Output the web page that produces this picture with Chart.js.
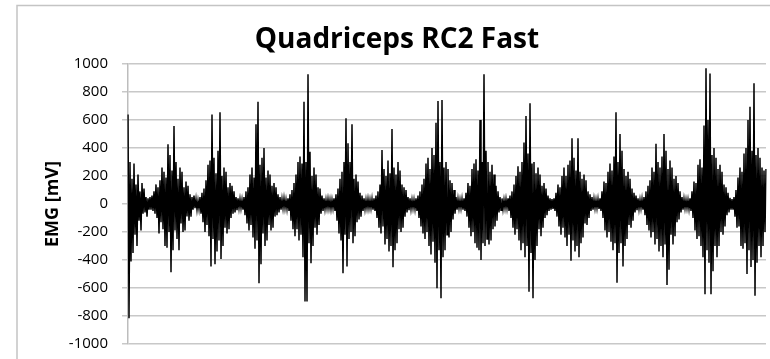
<!DOCTYPE html>
<html>
<head>
<meta charset="utf-8">
<script src="https://cdn.jsdelivr.net/npm/chart.js@4.4.1/dist/chart.umd.min.js"></script>
<style>
  html, body { margin: 0; padding: 0; background: #ffffff; }
  #wrap { width: 770px; height: 359px; }
</style>
</head>
<body>
<div id="wrap"><canvas id="c" width="770" height="359"></canvas></div>
<script>
// EMG signal, one array per contraction burst (alternating positive / negative excursions)
const startSpike = [640,-816,300,-410,180,-350,290,-220,140,-300,210,-120,90,-190,150,-70,110,-60,50,-90,40,-40,50];
const burst1  = [-40,60,-50,90,-70,140,-100,120,-210,170,-130,260,-180,230,-300,190,-312,426,-200,350,-488,240,-330,557,-190,300,-250,180,-330,260,-140,230,-200,120,-190,160,-90,130,-120,70,-90,50,-40,60,-30,35,-40,25,-35];
const burst2  = [50,-70,80,-130,110,-200,170,-150,280,-230,310,-447,640,-250,330,-430,220,-340,380,-260,655,-393,200,-300,260,-170,230,-210,120,-180,150,-100,130,-70,90,-60,50,-45,40,-30,35,-30,30,-40];
const burst3  = [50,-80,90,-140,120,-190,210,-150,260,-240,190,-320,569,-260,730,-566,280,-430,330,-210,400,-300,190,-260,240,-150,210,-190,130,-170,150,-90,120,-80,70,-60,50,-40,35,-30,40,-30,30,-35,40];
const burst4  = [-50,70,-120,100,-180,150,-230,210,-180,300,-260,340,-220,290,-380,730,-697,300,-697,926,-280,373,-424,200,-300,260,-170,210,-220,120,-150,110,-70,60,-50,40,-35,30,-30,35,-30,30,-35,30,-30,40,-50];
const burst5  = [70,-120,110,-210,180,-260,230,-495,300,-220,612,-447,433,-250,300,-200,569,-280,180,-230,210,-130,160,-110,80,-90,60,-50,40,-35,30,-30,35,-30,30,-30,35,-40,40,-50];
const burst6  = [60,-100,90,-170,140,-210,386,-160,250,-290,200,-250,310,-340,220,-300,535,-452,260,-330,210,-280,300,-180,240,-200,140,-170,120,-90,100,-60,50,-45,40,-35,30,-30,30,-35,40,-50];
const burst7  = [60,-100,90,-160,140,-210,180,-250,290,-200,330,-300,250,-360,400,-270,350,-420,580,-602,735,-330,300,-673,742,-380,260,-330,300,-220,250,-240,170,-200,150,-110,100,-70,50,-40,35,-30,30,-30,35,-40,40];
const burst8  = [-50,80,-90,150,-170,130,-230,250,-200,290,-280,320,-312,240,-330,600,-400,300,-280,926,-300,380,-250,300,-290,230,-260,280,-180,210,-160,130,-120,90,-60,50,-45,40,-35,30,-30,35,-30,40,-50];
const burst9  = [60,-100,90,-170,140,-220,200,-180,270,-260,230,-330,300,-280,440,-380,628,-300,360,-626,719,-350,290,-673,300,-400,220,-300,260,-180,210,-230,130,-170,150,-100,110,-80,60,-50,40,-40,35,-35,40];
const burst10 = [-50,80,-90,140,-160,120,-220,200,-170,260,-240,200,-300,280,-220,310,-405,469,-260,330,-340,240,-300,470,-380,230,-280,180,-240,210,-140,170,-150,90,-100,70,-50,50,-40,35,-30,30,-30,35,-35,40];
const burst11 = [-50,90,-100,160,-190,150,-240,230,-200,290,-270,240,-330,340,-280,655,-562,300,-350,500,-280,380,-447,250,-300,200,-250,230,-150,180,-170,110,-120,80,-60,60,-45,40,-35,30,-30,35,-40];
const burst12 = [50,-80,90,-150,130,-190,170,-240,260,-200,230,-290,430,-250,300,-340,260,-300,340,-380,500,-290,380,-578,250,-470,310,-220,260,-290,180,-230,200,-130,150,-110,90,-60,50,-40,35,-30,30,-30,30,-35,40];
const burst13 = [-50,90,-100,160,-190,150,-250,280,-230,320,-300,260,-380,560,-645,969,-330,600,-420,933,-645,350,-480,400,-300,330,-380,250,-300,280,-200,230,-220,140,-160,120,-80,80,-60,45,-40,35,-40];
const burst14 = [50,-90,100,-170,190,-160,260,-300,230,-320,360,-280,400,-500,600,-330,695,-450,380,-400,862,-655,350,-420,400,-300,330,-380,260,-300,240,-200,250];

const yTicks = [-1000,-800,-600,-400,-200,0,200,400,600,800,1000];
const chartTitle = 'Quadriceps RC2 Fast';
const yTitle = 'EMG [mV]';

const emg = [].concat(startSpike, burst1, burst2, burst3, burst4, burst5, burst6, burst7,
                      burst8, burst9, burst10, burst11, burst12, burst13, burst14);
const samples = emg.map((_, i) => i + 1);

const frame = {
  id: 'frame',
  beforeDraw(chart) {
    const ctx = chart.ctx;
    ctx.save();
    ctx.fillStyle = '#ffffff';
    ctx.fillRect(0, 0, chart.width, chart.height);
    ctx.strokeStyle = '#c4c4c4';
    ctx.lineWidth = 1.5;
    ctx.strokeRect(17, 5.5, 900, 500);
    ctx.restore();
  }
};

new Chart(document.getElementById('c'), {
  type: 'line',
  data: {
    labels: samples,
    datasets: [{
      data: emg,
      borderColor: '#000000',
      borderWidth: 1.5,
      pointRadius: 0,
      tension: 0,
      fill: false
    }]
  },
  options: {
    responsive: false,
    animation: false,
    events: [],
    layout: { padding: { left: 28, right: 4, top: 0, bottom: 0 } },
    plugins: {
      legend: { display: false },
      tooltip: { enabled: false },
      title: {
        display: true,
        text: chartTitle,
        color: '#000000',
        font: { family: 'Open Sans', size: 28, weight: 'bold' },
        padding: { top: 23, bottom: 7.4 }
      }
    },
    scales: {
      x: {
        type: 'category',
        display: true,
        offset: false,
        afterFit(axis) { axis.height = 15; },
        ticks: { display: false },
        grid: { display: false },
        border: { display: false }
      },
      y: {
        min: -1000,
        max: 1000,
        afterFit(axis) {
          axis.width = 100;
          axis.paddingTop = 9;
          axis.paddingBottom = 9;
        },
        afterBuildTicks(axis) { axis.ticks = yTicks.map(v => ({ value: v })); },
        ticks: {
          color: '#000000',
          font: { family: 'Open Sans', size: 15 },
          padding: 14,
          callback: (v) => String(v)
        },
        grid: {
          color: '#c8c8c8',
          lineWidth: 1.5,
          tickLength: 6,
          drawTicks: true
        },
        border: { display: true, color: '#bdbdbd', width: 1.5 },
        title: {
          display: true,
          text: yTitle,
          color: '#000000',
          font: { family: 'Open Sans', size: 18, weight: 'bold' },
          padding: { top: 14, bottom: 0 }
        }
      }
    }
  },
  plugins: [frame]
});
</script>
</body>
</html>
